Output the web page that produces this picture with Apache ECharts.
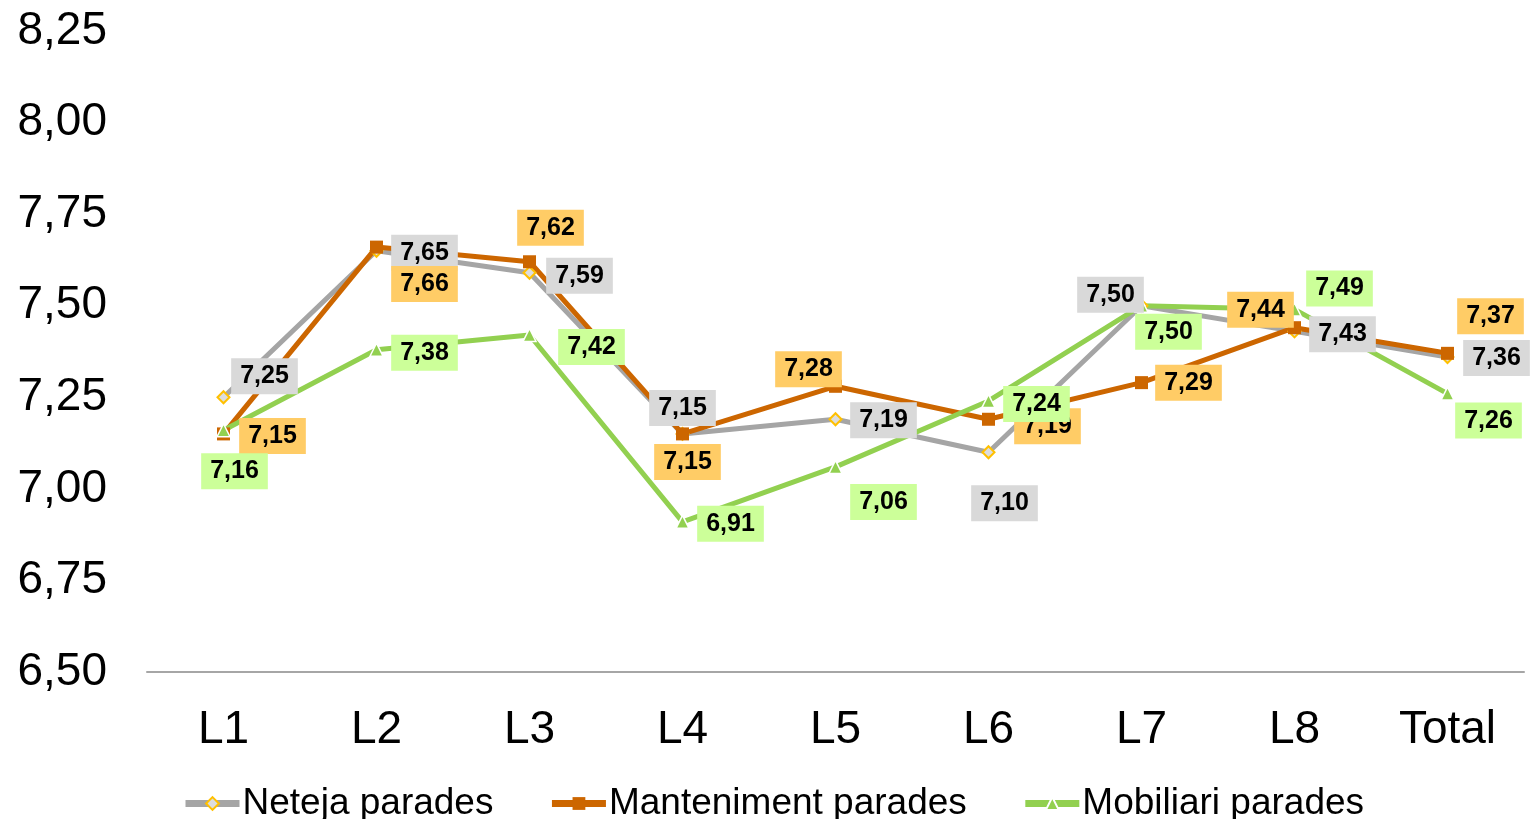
<!DOCTYPE html>
<html>
<head>
<meta charset="utf-8">
<style>
  html, body { margin: 0; padding: 0; background: #ffffff; }
  #chart { width: 1530px; height: 819px; }
</style>
<script src="https://cdn.jsdelivr.net/npm/echarts@6/dist/echarts.min.js"></script>
</head>
<body>
<div id="chart"></div>
<script>
// Categories (lines) and scores per aspect
const categories = ['L1', 'L2', 'L3', 'L4', 'L5', 'L6', 'L7', 'L8', 'Total'];
const netejaValues = [7.25, 7.65, 7.59, 7.15, 7.19, 7.10, 7.50, 7.43, 7.36];
const mantenimentValues = [7.15, 7.66, 7.62, 7.15, 7.28, 7.19, 7.29, 7.44, 7.37];
const mobiliariValues = [7.16, 7.38, 7.42, 6.91, 7.06, 7.24, 7.50, 7.49, 7.26];
const seriesNames = ['Neteja parades', 'Manteniment parades', 'Mobiliari parades'];

// Label placement (pixel offsets of each value box from its point)
const netejaLabelOffsets = [[41, -21], [48, 2], [50, 3], [0, -26], [48, 1], [16, 51], [-31, -11], [48, 3], [49, 1]];
const mantenimentLabelOffsets = [[49, 2], [48, 37], [21, -34], [5, 28], [-27, -17], [59, 7], [47, 0], [-34, -18], [43, -37]];
const mobiliariLabelOffsets = [[11, 41], [48, 3], [62, 12], [48, 2], [48, 35], [48, 3], [27, 26], [45, -21], [41, 27]];
const labelOffsets = [netejaLabelOffsets, mantenimentLabelOffsets, mobiliariLabelOffsets];

const fmt = v => v.toFixed(2).replace('.', ',');

function makeSeries(name, values, color, labelBg, symbol, symbolSize, markerStyle) {
  return {
    name: name,
    type: 'line',
    data: values,
    symbol: symbol,
    symbolSize: symbolSize,
    showAllSymbol: true,
    lineStyle: { color: color, width: 5 },
    itemStyle: markerStyle,
    emphasis: { disabled: true },
    label: {
      show: true,
      position: 'inside',
      align: 'center',
      verticalAlign: 'middle',
      formatter: p => fmt(p.value),
      fontFamily: 'Liberation Sans, Arial, sans-serif',
      fontWeight: 'bold',
      fontSize: 25,
      lineHeight: 26,
      color: '#000000',
      backgroundColor: labelBg,
      padding: [5, 9]
    },
    // shift each value box away from its point
    labelLayout: p => {
      const off = labelOffsets[p.seriesIndex][p.dataIndex];
      return { dx: off[0], dy: off[1], hideOverlap: false };
    },
    animation: false
  };
}

const chart = echarts.init(document.getElementById('chart'), null, { renderer: 'canvas' });

const legendLine = { width: 7 };

chart.setOption({
  backgroundColor: '#ffffff',
  animation: false,
  grid: { left: 147, right: 6, top: 31, bottom: 147, containLabel: false },
  legend: {
    left: 177,
    top: 780,
    itemWidth: 54,
    itemHeight: 16,
    itemGap: 55,
    textStyle: {
      fontFamily: 'Liberation Sans, Arial, sans-serif',
      fontSize: 37,
      color: '#000000',
      padding: [0, 0, 0, -2]
    },
    data: seriesNames.map(n => ({ name: n, lineStyle: legendLine }))
  },
  xAxis: {
    type: 'category',
    data: categories,
    boundaryGap: true,
    axisLine: { show: true, lineStyle: { color: '#A6A6A6', width: 2 } },
    axisTick: { show: false },
    axisLabel: {
      margin: 35,
      fontFamily: 'Liberation Sans, Arial, sans-serif',
      fontSize: 46,
      color: '#000000'
    }
  },
  yAxis: {
    type: 'value',
    min: 6.5,
    max: 8.25,
    interval: 0.25,
    axisLine: { show: false },
    axisTick: { show: false },
    splitLine: { show: false },
    axisLabel: {
      margin: 40,
      formatter: v => fmt(v),
      fontFamily: 'Liberation Sans, Arial, sans-serif',
      fontSize: 46,
      color: '#000000'
    }
  },
  series: [
    makeSeries(seriesNames[0], netejaValues, '#A5A5A5', '#D9D9D9',
      'diamond', 12, { color: '#DDDDDD', borderColor: '#FFC000', borderWidth: 2 }),
    makeSeries(seriesNames[1], mantenimentValues, '#CC6600', '#FFCC66',
      'rect', 13, { color: '#CC6600', borderColor: '#CC6600', borderWidth: 0 }),
    makeSeries(seriesNames[2], mobiliariValues, '#92D050', '#CCFF99',
      'triangle', 13, { color: '#92D050', borderColor: '#FFFFFF', borderWidth: 1.5 })
  ]
});
</script>
</body>
</html>
